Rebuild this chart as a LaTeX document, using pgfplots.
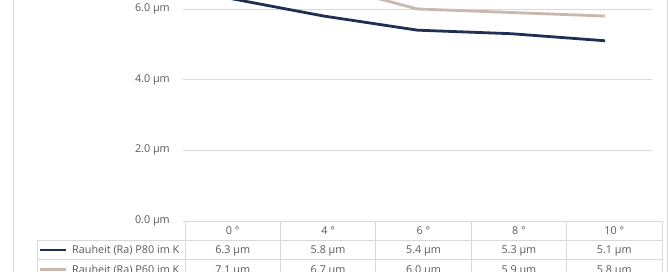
\documentclass[border=0pt]{standalone}
\usepackage{pgfplots}
\pgfplotsset{compat=1.18}
\usepackage{fontspec}
\setmainfont{Open Sans}
\definecolor{navy}{RGB}{32,48,84}
\definecolor{taupe}{RGB}{201,184,175}
\definecolor{gridc}{RGB}{217,217,217}
\definecolor{txt}{RGB}{89,89,89}
\begin{document}
\begin{tikzpicture}[x=1pt,y=1pt,font=\fontsize{10.8}{12}\selectfont]
\useasboundingbox (0pt,0pt) rectangle (669pt,272pt);
\clip (0pt,0pt) rectangle (669pt,272pt);
% chart area borders
\draw[gridc, line width=0.8pt] (13pt,-5pt) -- (13pt,280pt);
\draw[gridc, line width=0.8pt] (667pt,-5pt) -- (667pt,280pt);
\begin{axis}[
  at={(183pt,51pt)}, anchor=south west,
  scale only axis, width=469pt, height=282.7pt,
  xmin=-0.5, xmax=4.5, ymin=0, ymax=8,
  axis line style={draw=none},
  major tick length=0pt,
  xtick=\empty,
  ytick={0,2,4,6,8},
  ymajorgrids,
  grid style={gridc, line width=0.8pt},
  yticklabel={\pgfmathprintnumber[assume math mode=true,fixed,fixed zerofill,precision=1]{\tick} µm},
  yticklabel style={text=txt, inner sep=0pt, xshift=-13pt},
  clip=false,
]
\addplot[navy, line width=2.8pt, line join=round] coordinates {(0,6.3) (1,5.8) (2,5.4) (3,5.3) (4,5.1)};
\addplot[taupe, line width=2.8pt, line join=round] coordinates {(0,7.1) (1,6.7) (2,6.0) (3,5.9) (4,5.8)};
\end{axis}
% data table
\begin{scope}[gridc, line width=0.8pt]
\draw (185pt,51pt) -- (662pt,51pt);
\draw (37pt,32pt) -- (662pt,32pt);
\draw (37pt,12.7pt) -- (662pt,12.7pt);
\draw (37pt,32pt) -- (37pt,-5pt);
\foreach \x in {185,280.4,375.8,471.2,566.6,662} \draw (\x pt,51pt) -- (\x pt,-5pt);
\end{scope}
\foreach \lab [count=\i from 0] in {0 °,4 °,6 °,8 °,10 °}
  \node[anchor=base, text=txt, inner sep=0pt] at (232.7pt+95.4pt*\i,37.5pt) {\lab};
\foreach \v [count=\i from 0] in {6.3,5.8,5.4,5.3,5.1}
  \node[anchor=base, text=txt, inner sep=0pt] at (232.7pt+95.4pt*\i,18pt) {\v\ µm};
\foreach \v [count=\i from 0] in {7.1,6.7,6.0,5.9,5.8}
  \node[anchor=base, text=txt, inner sep=0pt] at (232.7pt+95.4pt*\i,-1.3pt) {\v\ µm};
\draw[navy, line width=2.8pt] (40pt,22pt) -- (66pt,22pt);
\draw[taupe, line width=2.8pt] (40pt,2.5pt) -- (66pt,2.5pt);
\node[anchor=base west, text=txt, inner sep=0pt] at (72pt,18pt) {Rauheit (Ra) P80 im K};
\node[anchor=base west, text=txt, inner sep=0pt] at (72pt,-1.3pt) {Rauheit (Ra) P60 im K};
\end{tikzpicture}
\end{document}
